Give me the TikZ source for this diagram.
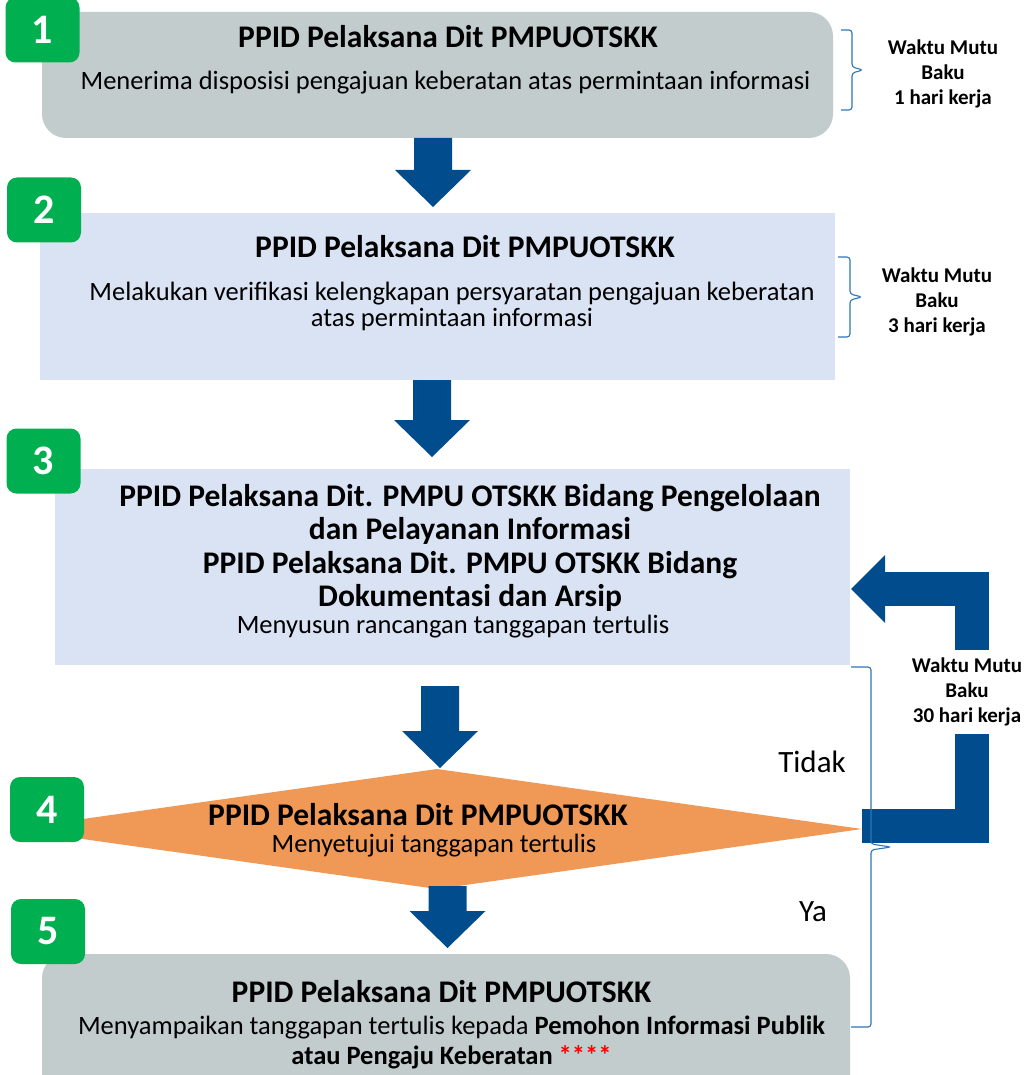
\documentclass[tikz,border=0pt]{standalone}
\usepackage{fontspec}
\setmainfont{Carlito}
\usepackage{xcolor}
\usepackage{tikz}
\usetikzlibrary{positioning}
\usetikzlibrary{shapes.geometric}
\usetikzlibrary{calc}
\definecolor{boxgray}{RGB}{195,204,205}
\definecolor{boxblue}{RGB}{218,227,243}
\definecolor{decorange}{RGB}{240,152,86}
\definecolor{arrowblue}{RGB}{0,76,140}
\definecolor{badgegreen}{RGB}{0,176,80}
\definecolor{braceblue}{RGB}{46,117,182}
\tikzset{
  stepnode/.style = {inner sep=0pt, outer sep=0pt, text centered},
  box_g/.style = {stepnode, rectangle, rounded corners=24pt, fill=boxgray},% kotak abu-abu
  box_b/.style = {stepnode, rectangle, fill=boxblue},% kotak biru muda
  box_d/.style = {stepnode, diamond, fill=decorange},% keputusan
  badge/.style = {stepnode, rectangle, rounded corners=10pt, fill=badgegreen,
    text=white, font=\fontsize{42}{42}\selectfont\bfseries,
    minimum width=74pt, minimum height=65pt},% nomor langkah
  title_t/.style = {stepnode, align=center, font=\fontsize{31.5}{33}\selectfont\bfseries},
  body_t/.style = {stepnode, align=center, font=\fontsize{26.5}{26}\selectfont},
  wmb_t/.style = {stepnode, align=center, font=\fontsize{21}{25}\selectfont\bfseries},% waktu mutu baku
  answer_t/.style = {stepnode, font=\fontsize{31}{31}\selectfont},
  flow_arr/.style = {fill=arrowblue, to path={let \p1=(\tikztostart), \p2=(\tikztotarget) in
    (\x1-19pt,\y1) -- (\x1+19pt,\y1) -- (\x1+19pt,\y2+37pt) -- (\x1+38pt,\y2+37pt)
    -- (\x1,\y2) -- (\x1-38pt,\y2+37pt) -- (\x1-19pt,\y2+37pt) -- cycle}},% panah blok
  back_arr/.style = {draw=arrowblue, line width=34pt},
  wmb_brace/.style = {draw=braceblue, line width=1.1pt, rounded corners=3pt,
    to path={let \p1=(\tikztostart), \p2=(\tikztotarget), \n1={0.5*(\y1+\y2)} in
    (\p1) -- (\x1+#1/2,\y1) -- (\x1+#1/2,\n1+3pt) -- (\x1+#1,\n1)
    -- (\x1+#1/2,\n1-3pt) -- (\x1+#1/2,\y2) -- (\p2)}}
}

\begin{document}
\begin{tikzpicture}[x=1pt,y=-1pt]
\clip (0,0) rectangle (1030,1075);
% kotak
\node [box_g, minimum width=791pt, minimum height=126pt] (box1) at (437.5,75) {};
\node [box_b, minimum width=795pt, minimum height=167pt] (box2) at (437.5,296.5) {};
\node [box_b, minimum width=795pt, minimum height=196pt] (box3) at (452.5,567) {};
\node [box_d, minimum width=850pt, minimum height=120pt] (dia) at (437,829) {};
\node [box_g, minimum width=808pt, minimum height=146pt] (box5) at (446,1027) {};
% panah
\path [flow_arr] ([xshift=-4.5pt]box1.south) to ([yshift=6pt]box2.north);
\path [flow_arr] ([xshift=-5.5pt]box2.south) to ([yshift=12pt]box3.north);
\path [flow_arr] ([xshift=-12.5pt,yshift=-21pt]box3.south) to ([yshift=1pt]dia.north);
\path [flow_arr] ([xshift=10.5pt,yshift=3pt]dia.south) to ([yshift=6pt]box5.north);
\coordinate (back) at ([xshift=1pt,yshift=-22pt]box3.east);
\draw [back_arr] ([yshift=3pt]dia.east) -- ++(110,0) |- ([xshift=34pt]back);
\fill [arrowblue] (back) -- ++(34,-34) -- ++(0,68) -- cycle;
% nomor
\node [badge] (num1) at (42.5,30) {1};
\node [badge] (num2) at (44,210) {2};
\node [badge] (num3) at (43.5,461) {3};
\node [badge] (num4) at (47,809.5) {4};
\node [badge] (num5) at (48,931.5) {5};
% teks
\node [title_t] (title1) at (448,37) {PPID Pelaksana Dit PMPUOTSKK};
\node [body_t] (text1) at (445.5,83) {Menerima disposisi pengajuan keberatan atas permintaan informasi};
\node [title_t] (title2) at (465,247) {PPID Pelaksana Dit PMPUOTSKK};
\node [body_t] (text2) at (452,306) {Melakukan verifikasi kelengkapan persyaratan pengajuan keberatan\\atas permintaan informasi};
\node [title_t, font=\fontsize{31.5}{33.5}\selectfont\bfseries] (title3) at (470,548) {PPID Pelaksana Dit. PMPU OTSKK Bidang Pengelolaan\\dan Pelayanan Informasi\\PPID Pelaksana Dit. PMPU OTSKK Bidang\\Dokumentasi dan Arsip};
\node [body_t] (text3) at (453,627) {Menyusun rancangan tanggapan tertulis};
\node [title_t] (title4) at (418,815) {PPID Pelaksana Dit PMPUOTSKK};
\node [body_t] (text4) at (434,846) {Menyetujui tanggapan tertulis};
\node [title_t] (title5) at (441.5,992) {PPID Pelaksana Dit PMPUOTSKK};
\node [body_t, font=\fontsize{26.5}{30}\selectfont] (text5) at (451.5,1042) {Menyampaikan tanggapan tertulis kepada \textbf{Pemohon Informasi Publik}\\\textbf{atau Pengaju Keberatan} \textcolor{red}{\textbf{****}}};
\node [answer_t] (no) at (812,762) {Tidak};
\node [answer_t] (yes) at (813,912) {Ya};
% waktu mutu baku
\draw [wmb_brace=22pt] (841,30) to (841,110);
\draw [wmb_brace=24pt] (838,257) to (838,337);
\draw [wmb_brace=40pt] (851,667) to (851,1027);
\node [wmb_t] (wmb1) at (943,74) {Waktu Mutu\\Baku\\1 hari kerja};
\node [wmb_t] (wmb2) at (937,302) {Waktu Mutu\\Baku\\3 hari kerja};
\node [wmb_t, fill=white, inner ysep=8pt, inner xsep=3pt] (wmb3) at (967,692) {Waktu Mutu\\Baku\\30 hari kerja};
\end{tikzpicture}
\end{document}
